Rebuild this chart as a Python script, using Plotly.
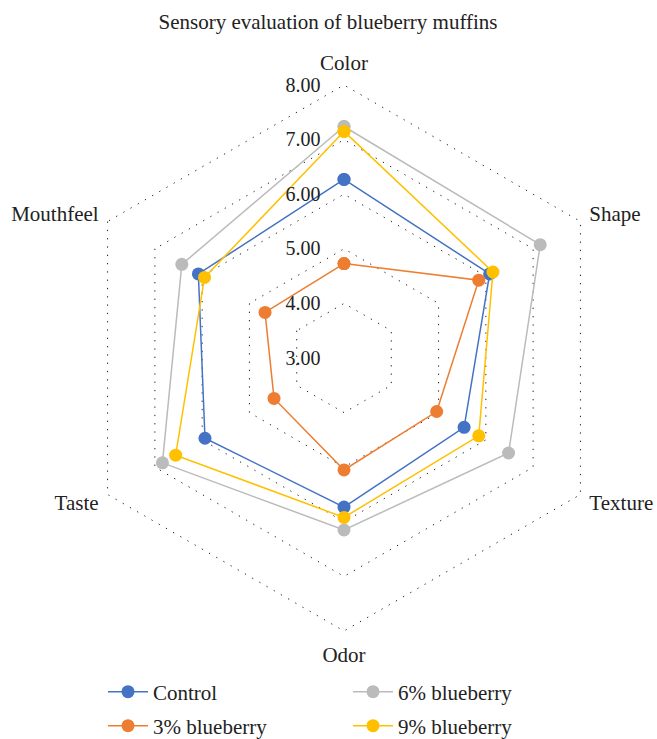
import plotly.graph_objects as go

categories = ["Color", "Shape", "Texture", "Odor", "Taste", "Mouthfeel"]
control = [6.27, 6.08, 5.54, 5.73, 5.94, 6.08]
blue3 = [4.73, 5.85, 4.96, 5.05, 4.48, 4.67]
blue6 = [7.24, 7.15, 6.48, 6.15, 6.84, 6.43]
blue9 = [7.15, 6.15, 5.85, 5.92, 6.56, 5.95]
tick_vals = [3, 4, 5, 6, 7, 8]
# lower side labels carry an empty second line so they sit a little higher
category_labels = ["Color", "Shape", "Texture<br> ", "Odor", "Taste<br> ", "Mouthfeel"]

series = [
    ("Control", control, "#4472C4", "legend", 1),
    ("3% blueberry", blue3, "#ED7D31", "legend2", 1),
    ("6% blueberry", blue6, "#BBBBBB", "legend", 2),
    ("9% blueberry", blue9, "#FFC000", "legend2", 2),
]

FONT = "Liberation Serif"
TXT = "#222222"
fig = go.Figure()
for name, vals, col, leg, rank in series:
    fig.add_trace(go.Scatterpolar(
        r=vals + vals[:1], theta=categories + categories[:1],
        mode="lines+markers", name=name,
        line=dict(color=col, width=1.5),
        marker=dict(color=col, size=13),
        legend=leg, legendrank=rank,
    ))

W, H = 657, 739
MB = 72                      # bottom margin reserved for the legends
HP = H - MB                  # plot-area height
rmax = 8.03
cx, cy, R8 = 344, 358, 273
R = R8 * (rmax - 3) / 5
legend_common = dict(orientation="h", xanchor="left", yanchor="middle",
                     xref="container", yref="container",
                     entrywidth=190, entrywidthmode="pixels", itemwidth=40,
                     font=dict(family=FONT, size=21, color=TXT),
                     bgcolor="rgba(0,0,0,0)")
fig.update_layout(
    width=W, height=H,
    margin=dict(l=0, r=0, t=0, b=MB),
    paper_bgcolor="white", plot_bgcolor="white",
    font=dict(family=FONT, size=21, color=TXT),
    title=dict(text="Sensory evaluation of blueberry muffins", x=328 / W, xanchor="center",
               y=1 - 22 / H, yanchor="middle", font=dict(family=FONT, size=21, color=TXT)),
    polar=dict(
        domain=dict(x=[(cx - R) / W, (cx + R) / W],
                    y=[(HP - (cy + R)) / HP, (HP - (cy - R)) / HP]),
        bgcolor="white",
        gridshape="linear",
        radialaxis=dict(range=[3, rmax], tickvals=tick_vals, tickformat=".2f", angle=90,
                        side="counterclockwise", tickangle=90,
                        showline=False, ticks="outside", ticklen=16,
                        tickcolor="rgba(0,0,0,0)", showgrid=True,
                        gridcolor="#222222", griddash="1.3px,7px", gridwidth=1.3,
                        tickfont=dict(family=FONT, size=20, color=TXT)),
        angularaxis=dict(direction="clockwise", rotation=90, showgrid=False,
                         showline=False, ticks="outside", ticklen=4,
                         tickcolor="rgba(0,0,0,0)",
                         tickmode="array", tickvals=categories, ticktext=category_labels,
                         tickfont=dict(family=FONT, size=21, color=TXT)),
    ),
    legend=dict(x=103 / W, y=1 - 692 / H, **legend_common),
    legend2=dict(x=103 / W, y=1 - 726 / H, **legend_common),
)
fig.write_html("out.html")
